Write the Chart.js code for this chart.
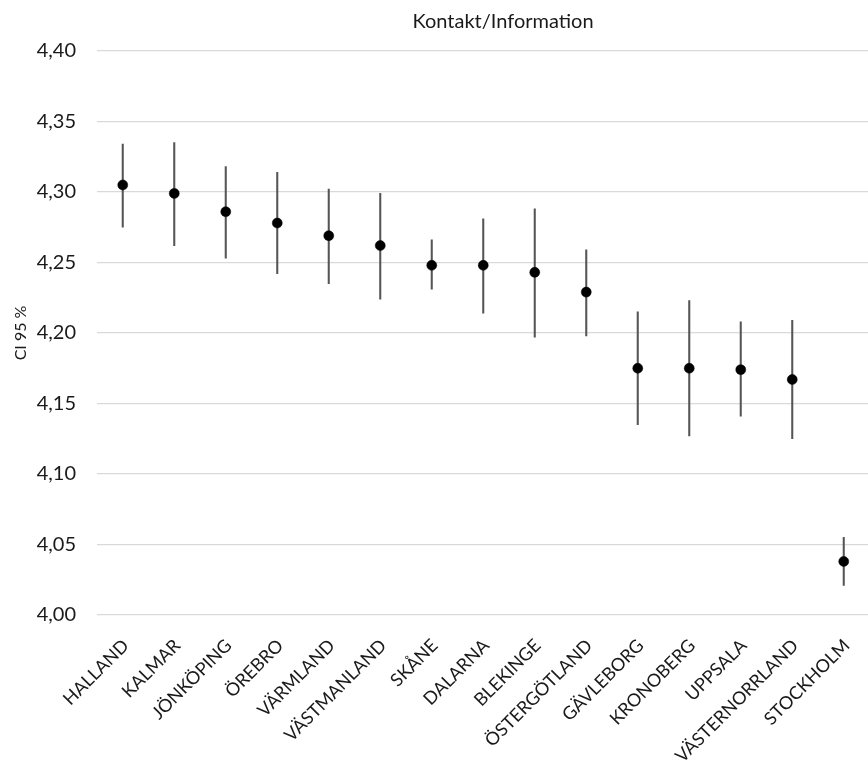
<!DOCTYPE html>
<html>
<head>
<meta charset="utf-8">
<script src="https://cdn.jsdelivr.net/npm/chart.js@4.4.1/dist/chart.umd.min.js"></script>
<style>
html,body{margin:0;padding:0;overflow:hidden;background:#fff;}
#c{display:block;width:875px;height:766px;}
</style>
</head>
<body>
<canvas id="c" width="875" height="766"></canvas>
<script>
const categories = ['HALLAND','KALMAR','JÖNKÖPING','ÖREBRO','VÄRMLAND','VÄSTMANLAND','SKÅNE','DALARNA','BLEKINGE','ÖSTERGÖTLAND','GÄVLEBORG','KRONOBERG','UPPSALA','VÄSTERNORRLAND','STOCKHOLM'];
const means = [4.305, 4.299, 4.286, 4.278, 4.269, 4.262, 4.248, 4.248, 4.243, 4.229, 4.175, 4.175, 4.174, 4.167, 4.038];
const upper = [4.334, 4.335, 4.318, 4.314, 4.302, 4.299, 4.266, 4.281, 4.288, 4.259, 4.215, 4.223, 4.208, 4.209, 4.055];
const lower = [4.275, 4.262, 4.253, 4.242, 4.235, 4.224, 4.231, 4.214, 4.197, 4.198, 4.135, 4.127, 4.141, 4.125, 4.021];
const yMin = 4.00, yMax = 4.40, yStep = 0.05;
const chartTitle = 'Kontakt/Information';
const yTitle = 'CI 95 %';

const ranges = lower.map((lo, i) => [lo, upper[i]]);
const FONT = 'Lato, "Open Sans", sans-serif';

const titleShift = {
  id: 'titleShift',
  afterLayout(chart) {
    const t = chart.titleBlock;
    if (t) { t.left += 131; }
  }
};

new Chart(document.getElementById('c'), {
  data: {
    labels: categories,
    datasets: [
      {
        type: 'scatter',
        label: 'Medel',
        data: means,
        showLine: false,
        pointRadius: 5,
        pointHoverRadius: 5,
        pointBackgroundColor: '#000',
        pointBorderColor: '#000',
        pointBorderWidth: 0.5,
        order: 0
      },
      {
        type: 'bar',
        label: 'CI',
        data: ranges,
        backgroundColor: '#555555',
        borderWidth: 0,
        barThickness: 1.4,
        order: 1
      }
    ]
  },
  options: {
    responsive: false,
    maintainAspectRatio: false,
    animation: false,
    devicePixelRatio: 1,
    layout: { padding: { left: 0, right: 0, top: 0, bottom: 0 } },
    plugins: {
      legend: { display: false },
      tooltip: { enabled: false },
      title: {
        display: true,
        text: chartTitle,
        color: '#1a1a1a',
        font: { family: FONT, size: 20, weight: 'normal' },
        padding: { top: 10, bottom: 17 }
      }
    },
    scales: {
      x: {
        type: 'category',
        offset: true,
        grid: { display: false, drawTicks: false },
        border: { display: false },
        ticks: {
          color: '#1a1a1a',
          font: { family: FONT, size: 18 },
          minRotation: 45,
          maxRotation: 45,
          autoSkip: false,
          padding: 20,
          labelOffset: 3
        },
        afterFit(scale) {
          scale.height = 151;
          scale.paddingLeft = 0;
          scale.paddingRight = 0;
        }
      },
      y: {
        type: 'linear',
        min: yMin,
        max: yMax,
        grid: { color: '#d9d9d9', lineWidth: 1.3, drawTicks: false },
        border: { display: false },
        ticks: {
          stepSize: yStep,
          color: '#1a1a1a',
          font: { family: FONT, size: 20 },
          padding: 21,
          callback: (v) => Number(v).toFixed(2).replace('.', ',')
        },
        title: {
          display: true,
          text: yTitle,
          color: '#1a1a1a',
          font: { family: FONT, size: 16 },
          padding: { top: 11, bottom: 0 }
        },
        afterFit(scale) { scale.width = 97; }
      }
    }
  },
  plugins: [titleShift]
});
</script>
</body>
</html>
